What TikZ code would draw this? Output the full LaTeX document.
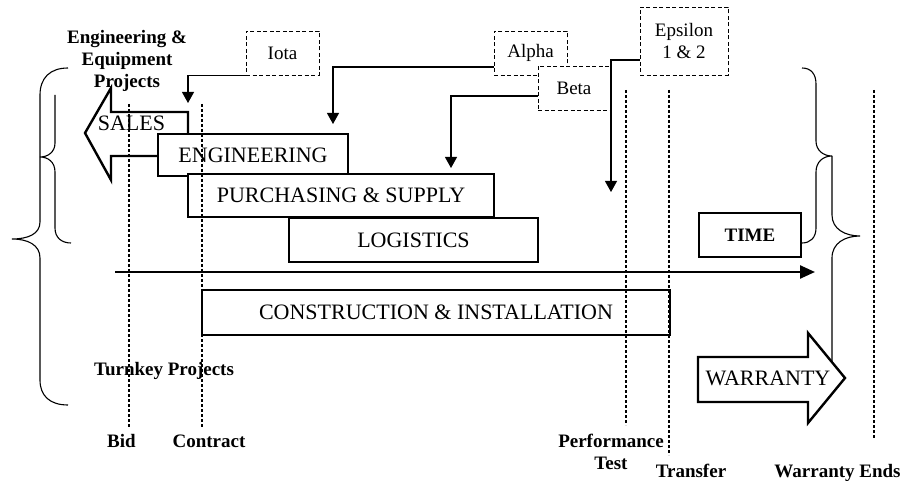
\documentclass[tikz,border=0pt]{standalone}
\usepackage{fontspec}
\setmainfont{Liberation Serif}
\usetikzlibrary{arrows.meta}
\begin{document}
\begin{tikzpicture}[x=1pt,y=-1pt,
  phase/.style={draw,line width=2.4pt,fill=white,font=\fontsize{22}{26}\selectfont,inner sep=0pt},
  gate/.style={draw,dash pattern=on 4pt off 2.5pt,line width=0.9pt,fill=white,font=\fontsize{19}{22}\selectfont,align=center,inner sep=0pt},
  conn/.style={line width=1.1pt,-{Triangle[width=12pt,length=11pt]}},
  mile/.style={line width=1.1pt,dash pattern=on 3pt off 2pt},
  lbl/.style={font=\bfseries\fontsize{19}{22}\selectfont,align=center,inner sep=0pt},
  bracepath/.style={line width=1.1pt},
  blockarrow/.style={draw,line width=2.4pt,fill=white,line join=miter},
  bigtext/.style={font=\fontsize{22}{26}\selectfont,inner sep=0pt}]
\useasboundingbox (0,0) rectangle (908,481);

% braces
\draw[bracepath] (68,68) .. controls (50,68) and (40,78) .. (40,95) -- (40,222)
  .. controls (40,234) and (28,239) .. (12,239) .. controls (28,239) and (40,245) .. (40,258)
  -- (40,380) .. controls (40,396) and (50,405) .. (68,405);
\draw[bracepath] (55,95) -- (55,143) .. controls (55,152) and (48,157) .. (40,157)
  .. controls (48,157) and (55,162) .. (55,172) -- (55,228) .. controls (55,238) and (62,243) .. (71,243);
\draw[bracepath] (802,68) .. controls (811,68) and (816,74) .. (816,84) -- (816,141)
  .. controls (816,150) and (823,156) .. (832,156) .. controls (823,156) and (816,162) .. (816,172)
  -- (816,228) .. controls (816,238) and (810,243) .. (802,243);
\draw[bracepath] (832,156) -- (832,215) .. controls (832,229) and (845,236) .. (860,236)
  .. controls (845,236) and (832,243) .. (832,258) -- (832,385)
  .. controls (832,398) and (825,404) .. (812,405);

% gate boxes
\node[gate,minimum width=73pt,minimum height=44pt] (iota) at (282.5,53) {Iota};
\node[gate,minimum width=73pt,minimum height=44pt] (alpha) at (530.5,53) {Alpha};
\node[gate,minimum width=72pt,minimum height=44pt] (beta) at (574,88) {Beta};
\node[gate,minimum width=88pt,minimum height=68pt] (eps) at (684,41) {Epsilon\\1 \& 2};

% connectors
\coordinate (iotaT) at (188,103);
\coordinate (alphaT) at (333,124);
\coordinate (betaT) at (451,168);
\coordinate (epsT) at (611,192);
\draw[conn] (iota.south west) -| (iotaT);
\draw[conn] ([yshift=-14pt]alpha.west) -| (alphaT);
\draw[conn] ([yshift=-8pt]beta.west) -| (betaT);
\draw[conn] ([yshift=-19pt]eps.west) -| (epsT);

% sales arrow
\draw[blockarrow] (188,112) -- (111,112) -- (111,88) -- (85,133) -- (111,180) -- (111,156) -- (188,156) -- cycle;
\node[bigtext] (sales) at (131.5,123) {SALES};

% phases
\node[phase,minimum width=190pt,minimum height=42pt] (eng) at (253,155) {ENGINEERING};
\node[phase,minimum width=306pt,minimum height=43pt] (pur) at (341,195.5) {PURCHASING \& SUPPLY};
\node[phase,minimum width=249pt,minimum height=44pt] (log) at (413.5,240) {LOGISTICS};
\node[phase,minimum width=468pt,minimum height=45pt] (con) at (436,312.5) {CONSTRUCTION \& INSTALLATION};
\node[draw,line width=1.3pt,minimum width=102pt,minimum height=44pt,inner sep=0pt,font=\bfseries\fontsize{19}{22}\selectfont] (time) at (750,235) {TIME};

% timeline
\coordinate (tl0) at (115,272);
\coordinate (tl1) at (815,272);
\draw[line width=2.4pt,-{Triangle[width=13pt,length=15pt]}] (tl0) -- (tl1);

% warranty arrow
\draw[blockarrow] (698,357) -- (808,357) -- (808,333) -- (845,378) -- (808,423) -- (808,402) -- (698,402) -- cycle;
\node[bigtext] (war) at (768,378) {WARRANTY};

% milestones
\draw[mile] (129,104) -- (129,427);
\draw[mile] (202,104) -- (202,427);
\draw[mile] (626,90) -- (626,425);
\draw[mile] (669,90) -- (669,455);
\draw[mile] (874,90) -- (874,438);

% labels
\node[lbl] (eep) at (127,60.5) {Engineering \&\\Equipment\\Projects};
\node[lbl,anchor=base] (turnkey) at (164,375) {Turnkey Projects};
\node[lbl,anchor=base] (bid) at (121.5,447) {Bid};
\node[lbl,anchor=base] (contract) at (209,447) {Contract};
\node[lbl] (perf) at (611,452) {Performance\\Test};
\node[lbl,anchor=base] (transfer) at (691,477) {Transfer};
\node[lbl,anchor=base] (wend) at (837.5,477) {Warranty Ends};
\end{tikzpicture}
\end{document}
